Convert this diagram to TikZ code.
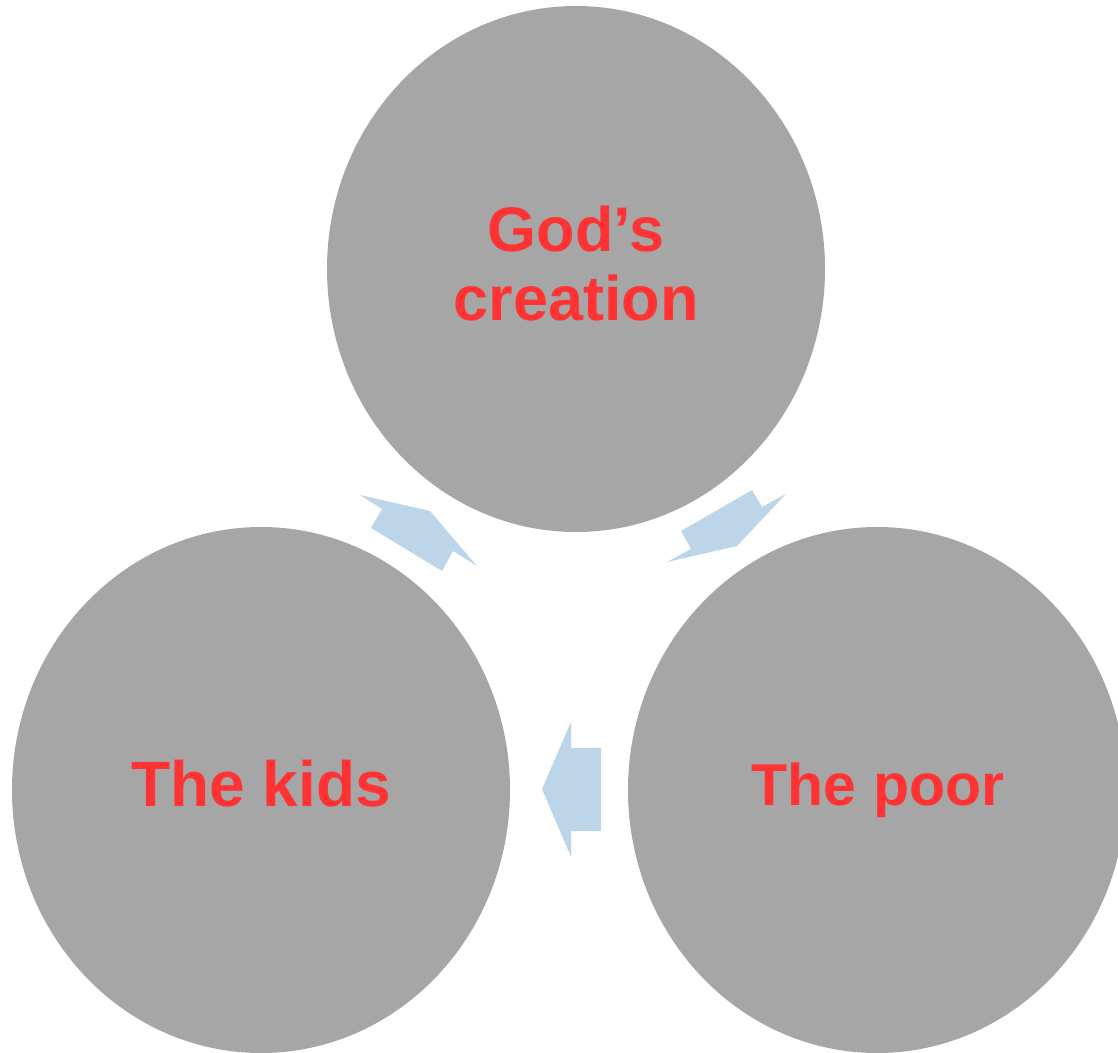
\documentclass[tikz,border=0pt]{standalone}
\usepackage{fontspec}
\setmainfont{Liberation Sans}
\usetikzlibrary{shapes.geometric}
\definecolor{circgray}{HTML}{A6A6A6}
\definecolor{arrowblue}{HTML}{BDD5E8}
\definecolor{txtred}{HTML}{FF3333}
\tikzset{
  circ/.style={ellipse, fill=circgray, draw=none, minimum width=498pt, minimum height=526pt, inner sep=0pt},
  lbl/.style={text=txtred, font=\fontsize{63}{69}\selectfont\bfseries, align=center, inner sep=0pt},
  lblsmall/.style={lbl, font=\fontsize{59}{69}\selectfont\bfseries},
  arr/.style={fill=arrowblue, draw=none}
}
\begin{document}
\begin{tikzpicture}[x=1pt,y=-1pt]
\useasboundingbox (0,0) rectangle (1118,1052);
\clip (0,0) rectangle (1118,1052);
\node[circ] (top) at (576,269) {};
\node[circ] (left) at (261,790) {};
\node[circ] (right) at (877,790) {};
\node[lbl, anchor=base] (ttop) at (576,320) {God’s\\creation};
\node[lbl, font=\fontsize{64}{69}\selectfont\bfseries, anchor=base] (tleft) at (261,806) {The kids};
\node[lblsmall, anchor=base] (tright) at (878,805) {The poor};
\fill[arr] (360,495) -- (430,511) -- (477,566) -- (453,551) -- (442,571) -- (371,528) -- (382,509) -- cycle;
\fill[arr] (752,490) -- (762,507) -- (786,494) -- (737,546) -- (667,562) -- (691,549) -- (681,531) -- cycle;
\fill[arr] (571,722) -- (571,748) -- (601,748) -- (601,831) -- (571,831) -- (571,857) -- (542,789) -- cycle;
\end{tikzpicture}
\end{document}
